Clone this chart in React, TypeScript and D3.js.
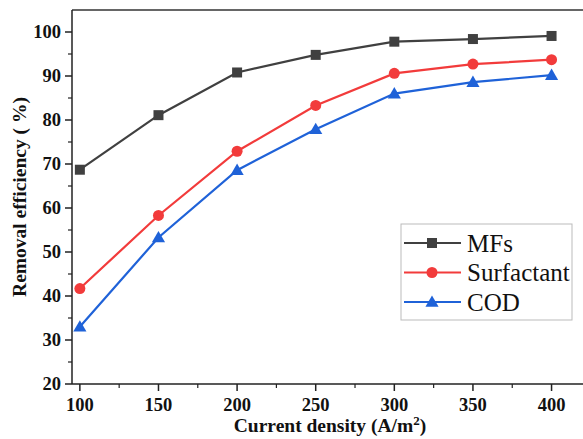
import React from 'react';
import * as d3 from 'd3';

const W = 583;
const H = 439;
const margin = { top: 10, right: 0, bottom: 55, left: 72 };

const currentDensity = [100, 150, 200, 250, 300, 350, 400];
const mfs = [68.7, 81.1, 90.8, 94.8, 97.8, 98.4, 99.1];
const surfactant = [41.7, 58.3, 72.9, 83.3, 90.6, 92.7, 93.7];
const cod = [33.0, 53.3, 68.6, 77.9, 86.0, 88.6, 90.2];

const xTicks = [100, 150, 200, 250, 300, 350, 400];
const yTicks = [20, 30, 40, 50, 60, 70, 80, 90, 100];

const series = [
  { name: 'MFs', values: mfs, color: '#404040', marker: 'square' },
  { name: 'Surfactant', values: surfactant, color: '#f23b3b', marker: 'circle' },
  { name: 'COD', values: cod, color: '#1f62d8', marker: 'triangle' },
];

const FONT = '"Liberation Serif", "Times New Roman", serif';

const Marker = ({ type, x, y, color }: { type: string; x: number; y: number; color: string }) => {
  if (type === 'square') return <rect x={x - 5} y={y - 5} width={10} height={10} fill={color} />;
  if (type === 'circle') return <circle cx={x} cy={y} r={5.5} fill={color} />;
  const sym = d3.symbol().type(d3.symbolTriangle).size(75)();
  return <path d={sym || ''} transform={`translate(${x},${y + 1})`} fill={color} />;
};

export default function App() {
  const x = d3.scaleLinear().domain([95, 420]).range([margin.left, W - margin.right]);
  const y = d3.scaleLinear().domain([20, 105]).range([H - margin.bottom, margin.top]);
  const line = d3.line<number>().x((_, i) => x(currentDensity[i])).y(d => y(d));

  const x0 = margin.left;
  const y0 = H - margin.bottom;
  const minorX = d3.range(125, 420, 50);
  const minorY = d3.range(25, 105, 10);

  const legend = { x: 401, y: 224, w: 171, h: 96 };

  return (
    <svg width={W} height={H} style={{ position: 'absolute', left: 0, top: 0, background: '#fff' }}>
      {/* frame */}
      <line x1={x0} x2={W} y1={margin.top} y2={margin.top} stroke="#333" strokeWidth={1.5} />
      <line x1={x0} x2={x0} y1={margin.top} y2={y0} stroke="#222" strokeWidth={1.5} />
      <line x1={x0} x2={W} y1={y0} y2={y0} stroke="#222" strokeWidth={1.5} />

      {/* y ticks */}
      {yTicks.map(t => (
        <g key={t}>
          <line x1={x0 - 7} x2={x0} y1={y(t)} y2={y(t)} stroke="#222" strokeWidth={1.5} />
          <text x={x0 - 11} y={y(t)} dy="0.35em" textAnchor="end" fontFamily={FONT} fontWeight="bold" fontSize={18.5} fill="#111">{t}</text>
        </g>
      ))}
      {minorY.map(t => (
        <line key={t} x1={x0 - 4} x2={x0} y1={y(t)} y2={y(t)} stroke="#222" strokeWidth={1.2} />
      ))}

      {/* x ticks */}
      {xTicks.map(t => (
        <g key={t}>
          <line x1={x(t)} x2={x(t)} y1={y0} y2={y0 + 7} stroke="#222" strokeWidth={1.5} />
          <text x={x(t)} y={y0 + 27} textAnchor="middle" fontFamily={FONT} fontWeight="bold" fontSize={18.5} fill="#111">{t}</text>
        </g>
      ))}
      {minorX.map(t => (
        <line key={t} x1={x(t)} x2={x(t)} y1={y0} y2={y0 + 4} stroke="#222" strokeWidth={1.2} />
      ))}

      {/* axis titles */}
      <text x={330} y={432} textAnchor="middle" fontFamily={FONT} fontWeight="bold" fontSize={19.5} fill="#111">
        Current density (A/m<tspan dy={-7} fontSize={13}>2</tspan><tspan dy={7}>)</tspan>
      </text>
      <text transform={`translate(26,${197}) rotate(-90)`} textAnchor="middle" fontFamily={FONT} fontWeight="bold" fontSize={19.5} fill="#111">
        Removal efficiency ( %)
      </text>

      {/* series */}
      {series.map(s => (
        <g key={s.name}>
          <path d={line(s.values) || ''} fill="none" stroke={s.color} strokeWidth={2.2} />
          {s.values.map((v, i) => (
            <Marker key={i} type={s.marker} x={x(currentDensity[i])} y={y(v)} color={s.color} />
          ))}
        </g>
      ))}

      {/* legend */}
      <rect x={legend.x} y={legend.y} width={legend.w} height={legend.h} fill="#fff" stroke="#bbb" strokeWidth={1} />
      {series.map((s, i) => {
        const ly = 243 + i * 29.5;
        return (
          <g key={s.name}>
            <line x1={404} x2={461} y1={ly} y2={ly} stroke={s.color} strokeWidth={2.2} />
            <Marker type={s.marker} x={432} y={ly} color={s.color} />
            <text x={467} y={ly} dy="0.35em" fontFamily={FONT} fontSize={25} fill="#111">{s.name}</text>
          </g>
        );
      })}
    </svg>
  );
}
